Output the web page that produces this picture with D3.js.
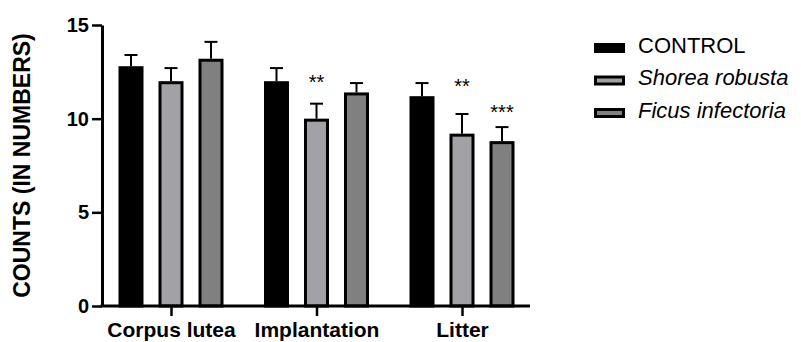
<!DOCTYPE html>
<html>
<head>
<meta charset="utf-8">
<script src="https://cdn.jsdelivr.net/npm/d3@7"></script>
<style>
  body { margin: 0; background: #fff; }
  svg { display: block; font-family: Arial, "Liberation Sans", sans-serif; }
</style>
</head>
<body>
<figure id="chart" style="margin:0"></figure>
<script>
// values
const categories = ["Corpus lutea", "Implantation", "Litter"];
const series = ["CONTROL", "Shorea robusta", "Ficus infectoria"];
const controlValues = [12.8, 12.0, 11.2];
const controlErrors = [0.6, 0.7, 0.7];
const shoreaValues = [12.0, 10.0, 9.2];
const shoreaErrors = [0.7, 0.8, 1.05];
const ficusValues = [13.2, 11.4, 8.8];
const ficusErrors = [0.9, 0.5, 0.75];
const yTicks = [0, 5, 10, 15];
// significance marks: [category, series, label, level in axis units]
const stars = [
  ["Implantation", "Shorea robusta", "**", 11.6],
  ["Litter", "Shorea robusta", "**", 11.35],
  ["Litter", "Ficus infectoria", "***", 10.0]
];

const fills = { "CONTROL": "#000000", "Shorea robusta": "#a2a1a5", "Ficus infectoria": "#808080" };

const width = 801, height = 342;
const marginLeft = 102, marginTop = 25, plotBottom = 306, axisEnd = 530;

const rows = [];
const valueSets = [controlValues, shoreaValues, ficusValues];
const errorSets = [controlErrors, shoreaErrors, ficusErrors];
categories.forEach((c, i) => {
  series.forEach((s, j) => {
    rows.push({ cat: c, ser: s, value: valueSets[j][i], err: errorSets[j][i] });
  });
});

const svg = d3.select("#chart").append("svg")
  .attr("width", width)
  .attr("height", height);

const y = d3.scaleLinear().domain([0, 15]).range([plotBottom, marginTop]);
const x = d3.scalePoint().domain(categories).range([171, 462]);
const xs = d3.scaleBand().domain(series).range([-52.5, 52.5]).paddingInner(0.375);

const sw = 3;

// bars
svg.selectAll("rect.bar")
  .data(rows).enter()
  .append("rect")
  .attr("class", "bar")
  .attr("x", d => x(d.cat) + xs(d.ser) + sw / 2)
  .attr("width", xs.bandwidth() - sw)
  .attr("y", d => y(d.value) + sw / 2)
  .attr("height", d => y(0) - y(d.value) - sw / 2)
  .attr("fill", d => fills[d.ser])
  .attr("stroke", "#000")
  .attr("stroke-width", sw);

// error bars (upper only)
const eb = svg.selectAll("g.err")
  .data(rows).enter()
  .append("g")
  .attr("class", "err")
  .attr("transform", d => "translate(" + (x(d.cat) + xs(d.ser) + xs.bandwidth() / 2) + ",0)");
eb.append("line")
  .attr("x1", 0).attr("x2", 0)
  .attr("y1", d => y(d.value))
  .attr("y2", d => y(d.value + d.err))
  .attr("stroke", "#000").attr("stroke-width", 2);
eb.append("line")
  .attr("x1", -6.5).attr("x2", 6.5)
  .attr("y1", d => y(d.value + d.err))
  .attr("y2", d => y(d.value + d.err))
  .attr("stroke", "#000").attr("stroke-width", 2);

// stars
svg.selectAll("text.star")
  .data(stars).enter()
  .append("text")
  .attr("class", "star")
  .attr("x", d => x(d[0]) + xs(d[1]) + xs.bandwidth() / 2)
  .attr("y", d => y(d[3]))
  .attr("text-anchor", "middle")
  .style("font-size", "20px")
  .text(d => d[2]);

// y axis
const yAxis = svg.append("g")
  .attr("transform", "translate(" + marginLeft + ",0)")
  .call(d3.axisLeft(y).tickValues(yTicks).tickSize(10).tickSizeOuter(0).tickPadding(3));
yAxis.select(".domain").attr("stroke-width", 3);
yAxis.selectAll(".tick line").attr("stroke-width", 2.5);
yAxis.selectAll(".tick text")
  .style("font-size", "20px").style("font-weight", "bold")
  .attr("fill", "#000");

// x axis
const xAxis = svg.append("g")
  .attr("transform", "translate(0," + plotBottom + ")")
  .call(d3.axisBottom(x).tickSize(10).tickPadding(6));
xAxis.select(".domain").remove();
xAxis.selectAll(".tick line").attr("stroke-width", 2.5);
xAxis.selectAll(".tick text")
  .style("font-size", "21px").style("font-weight", "bold")
  .attr("fill", "#000");
svg.append("line")
  .attr("x1", marginLeft - 1.5).attr("x2", axisEnd)
  .attr("y1", plotBottom).attr("y2", plotBottom)
  .attr("stroke", "#000").attr("stroke-width", 3);

// y title
svg.append("text")
  .attr("transform", "translate(30," + ((marginTop + plotBottom) / 2) + ") rotate(-90)")
  .attr("text-anchor", "middle")
  .style("font-size", "23px").style("font-weight", "bold")
  .text("COUNTS (IN NUMBERS)");

// legend
const legend = svg.selectAll("g.leg")
  .data(series).enter()
  .append("g")
  .attr("class", "leg")
  .attr("transform", (d, i) => "translate(594," + (43 + i * 32.5) + ")");
legend.append("rect")
  .attr("x", 1.5).attr("y", 1.5)
  .attr("width", 28).attr("height", 7)
  .attr("fill", d => fills[d])
  .attr("stroke", "#000").attr("stroke-width", 3);
legend.append("text")
  .attr("x", 44).attr("y", 9.5)
  .style("font-size", "22px")
  .style("font-style", (d, i) => i === 0 ? "normal" : "italic")
  .text(d => d);
</script>
</body>
</html>
